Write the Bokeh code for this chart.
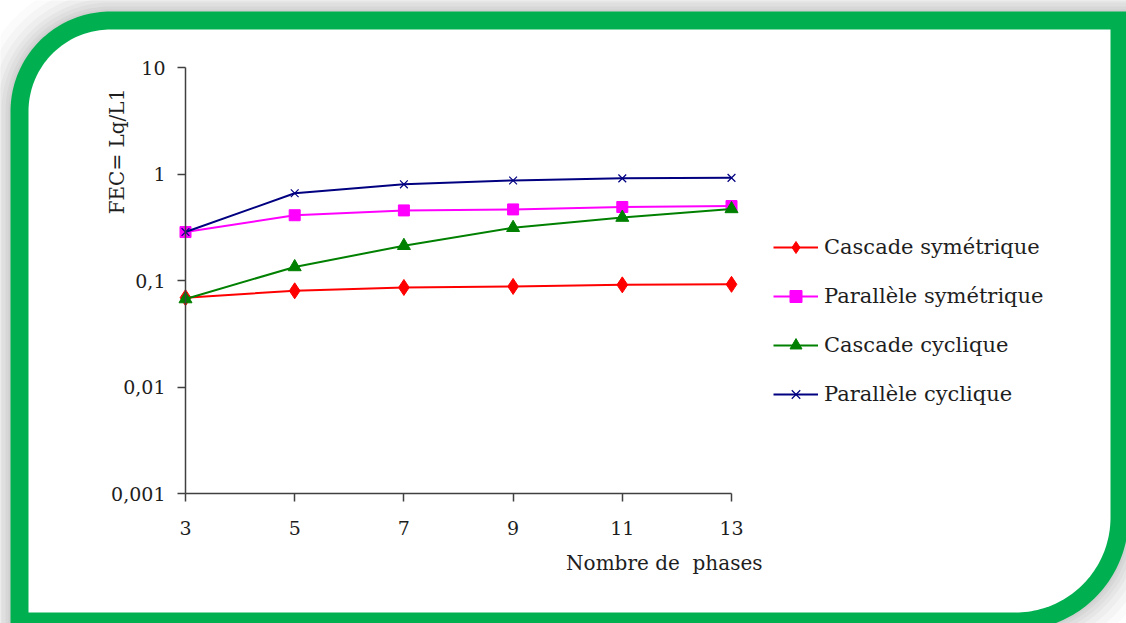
import numpy as np
from bokeh.plotting import figure
from bokeh.models import (Range1d, LinearScale, FixedTicker, Legend, LegendItem,
                          LinearAxis, LogAxis)
from bokeh.core.properties import value
from bokeh.embed import file_html
from bokeh.resources import INLINE

# Number of phases and FEC = Lq/L1 for each winding arrangement
phases = [3, 5, 7, 9, 11, 13]
cascade_symetrique = [0.069, 0.080, 0.086, 0.088, 0.091, 0.092]
parallele_symetrique = [0.285, 0.41, 0.455, 0.465, 0.49, 0.50]
cascade_cyclique = [0.067, 0.134, 0.212, 0.313, 0.39, 0.47]
parallele_cyclique = [0.285, 0.66, 0.80, 0.87, 0.91, 0.92]

y_ticks = [0.001, 0.01, 0.1, 1, 10]
y_tick_labels = ["0,001", "0,01", "0,1", "1", "10"]
x_ticks = [3, 5, 7, 9, 11, 13]

FONT = "DejaVu Serif"
TEXT_COL = "#1e1e1e"
AXIS_COL = "#404040"
W, H = 1126, 623

# Pixel box of the plotting area inside the canvas
X0_PX, X1_PX = 185, 731
Y_TOP_PX, Y_BOT_PX = 67, 493
X_MIN, X_MAX = 3, 13
Y_MIN, Y_MAX = 0.001, 10

# The frame covers the whole canvas; extend the data ranges so that the
# chart area lands on the pixel box above.
px_per_x = (X1_PX - X0_PX) / (X_MAX - X_MIN)
px_per_dec = (Y_BOT_PX - Y_TOP_PX) / (np.log10(Y_MAX) - np.log10(Y_MIN))
x_start = X_MIN - X0_PX / px_per_x
x_end = X_MAX + (W - X1_PX) / px_per_x
y_end = 10 ** (np.log10(Y_MAX) + Y_TOP_PX / px_per_dec)
y_start = 10 ** (np.log10(Y_MIN) - (H - Y_BOT_PX) / px_per_dec)

p = figure(width=W, height=H, output_backend="svg", toolbar_location=None,
           x_range=Range1d(x_start, x_end), y_range=Range1d(y_start, y_end),
           y_axis_type="log", x_axis_location=None, y_axis_location=None,
           min_border=0)
p.outline_line_color = None
p.grid.visible = False
p.border_fill_color = "white"
p.background_fill_color = "white"

# pixel coordinates (y measured from the top of the canvas)
p.extra_x_ranges = {"px": Range1d(0, W)}
p.extra_y_ranges = {"px": Range1d(0, H)}
p.extra_x_scales = {"px": LinearScale()}
p.extra_y_scales = {"px": LinearScale()}


def rounded_frame(left, top, right, bottom, r_tl, r_br, n=48):
    """Outline with a rounded top-left and bottom-right corner."""
    xs, ys = [], []
    t = np.linspace(np.pi, 1.5 * np.pi, n)
    xs += list(left + r_tl + r_tl * np.cos(t))
    ys += list(top + r_tl + r_tl * np.sin(t))
    xs += [right]
    ys += [top]
    t = np.linspace(0, 0.5 * np.pi, n)
    xs += list(right - r_br + r_br * np.cos(t))
    ys += list(bottom - r_br + r_br * np.sin(t))
    xs += [left]
    ys += [bottom]
    return xs, [H - v for v in ys]


# green band outline and its soft drop shadow (drawn as fading rings)
OUTER = (10, 11, 1128, 630, 100, 113)
shadow = [(34, "#fbfbfb"), (26, "#f5f5f5"), (19, "#eeeeee"), (13, "#e6e6e6"),
          (9, "#dfdfdf"), (5, "#d7d7d7"), (2, "#d0d0d0")]
for d, col in shadow:
    l, t, r, b, rtl, rbr = OUTER
    xs, ys = rounded_frame(l - d, t - d, r + d, b + d, rtl + d, rbr + d)
    p.patch(xs, ys, fill_color=col, line_color=None, level="underlay",
            x_range_name="px", y_range_name="px")

for args, col in [(OUTER, "#00b050"), ((28, 29, 1110, 612, 82, 95), "white")]:
    xs, ys = rounded_frame(*args)
    p.patch(xs, ys, fill_color=col, line_color=None, level="underlay",
            x_range_name="px", y_range_name="px")

# Axes pinned to the chart box
xaxis = LinearAxis(fixed_location=Y_MIN, bounds=(X_MIN, X_MAX),
                   ticker=FixedTicker(ticks=x_ticks))
yaxis = LogAxis(fixed_location=X_MIN, bounds=(Y_MIN, Y_MAX),
                ticker=FixedTicker(ticks=y_ticks),
                major_label_overrides={t: s for t, s in zip(y_ticks, y_tick_labels)})
p.add_layout(xaxis, "below")
p.add_layout(yaxis, "left")
for ax in (xaxis, yaxis):
    ax.axis_line_color = AXIS_COL
    ax.axis_line_width = 1.5
    ax.major_tick_line_color = AXIS_COL
    ax.major_tick_line_width = 1.5
    ax.major_tick_in = 0
    ax.major_tick_out = 8
    ax.minor_tick_line_color = None
    ax.major_label_text_font = FONT
    ax.major_label_text_font_size = "19px"
    ax.major_label_text_color = TEXT_COL
xaxis.major_label_standoff = 19
yaxis.major_label_standoff = 12

series = [
    ("Cascade symétrique", cascade_symetrique, "#ff0000", "diamond", 16),
    ("Parallèle symétrique", parallele_symetrique, "#ff00ff", "square", 11),
    ("Cascade cyclique", cascade_cyclique, "#008000", "triangle", 13),
    ("Parallèle cyclique", parallele_cyclique, "#000080", "x", 11),
]
items = []
for name, vals, col, marker, size in series:
    ln = p.line(phases, vals, line_color=col, line_width=2)
    if marker == "x":
        mk = p.scatter(phases, vals, marker=marker, size=size, line_color=col,
                       line_width=1.2)
    else:
        mk = p.scatter(phases, vals, marker=marker, size=size, fill_color=col,
                       line_color=col)
    items.append(LegendItem(label=name, renderers=[ln, mk]))

legend = Legend(items=items, location=(773, H - 409), glyph_width=45,
                glyph_height=30, spacing=19, label_standoff=6, padding=0,
                margin=0, label_text_font=FONT, label_text_font_size="21px",
                label_text_color=TEXT_COL, border_line_color=None,
                background_fill_alpha=0)
p.add_layout(legend, "center")

# Axis titles
p.text(x=[116], y=[H - 151], text=["FEC= Lq/L1"], angle=np.pi / 2,
       text_align="center", text_baseline="middle", text_font=value(FONT),
       text_font_size="20px", text_color=TEXT_COL,
       x_range_name="px", y_range_name="px")
p.text(x=[762], y=[H - 562], text=["Nombre de \u00a0phases"], text_align="right",
       text_baseline="middle", text_font=value(FONT), text_font_size="20px",
       text_color=TEXT_COL, x_range_name="px", y_range_name="px")

open("out.html", "w").write(file_html(p, INLINE))
